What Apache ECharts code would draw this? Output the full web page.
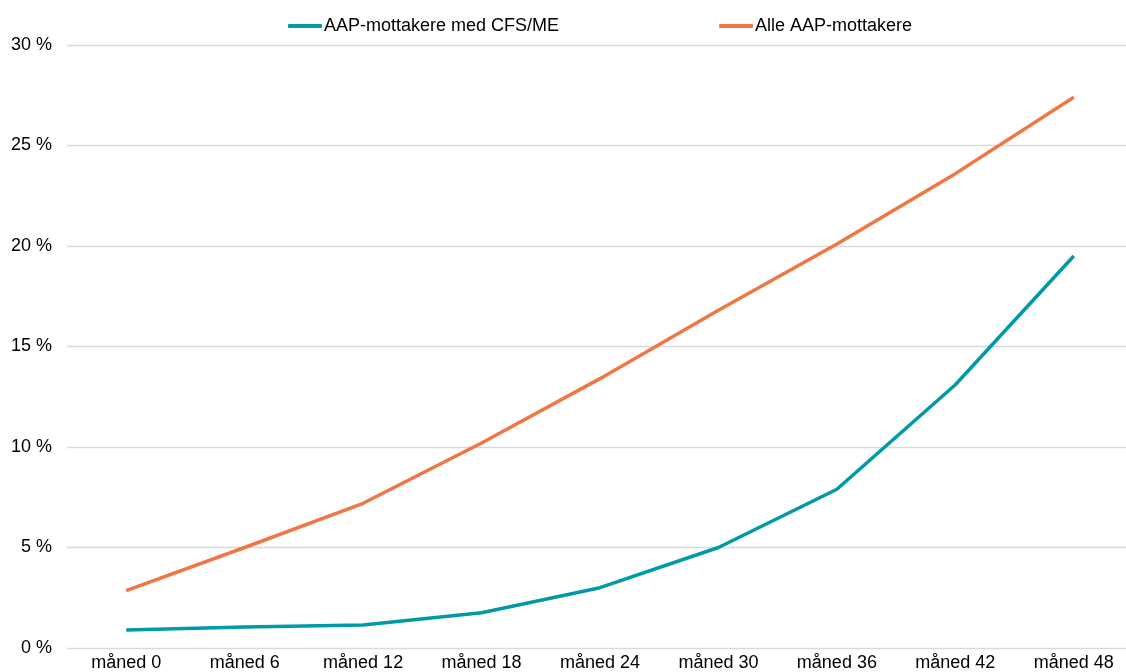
<!DOCTYPE html>
<html>
<head>
<meta charset="utf-8">
<script src="https://cdn.jsdelivr.net/npm/echarts@6/dist/echarts.min.js"></script>
<style>html,body{margin:0;padding:0;background:#fff;}#c{width:1126px;height:672px;}</style>
</head>
<body>
<div id="c"></div>
<script>
const categories = ['måned 0','måned 6','måned 12','måned 18','måned 24','måned 30','måned 36','måned 42','måned 48'];
const cfsName = 'AAP-mottakere med CFS/ME';
const allName = 'Alle AAP-mottakere';
const cfsValues = [0.9, 1.05, 1.15, 1.75, 3.0, 5.0, 7.9, 13.1, 19.5];
const allValues = [2.85, 5.0, 7.2, 10.2, 13.4, 16.8, 20.1, 23.6, 27.4];
const yTicks = [0, 5, 10, 15, 20, 25, 30];

const font = 'Liberation Sans, Arial, Helvetica, sans-serif';
const chart = echarts.init(document.getElementById('c'), null, {renderer:'canvas'});
chart.setOption({
  animation: false,
  backgroundColor: '#fff',
  legend: {
    top: 12, left: 283, itemGap: 160, itemWidth: 34, itemHeight: 4,
    icon: 'roundRect',
    textStyle: { fontFamily: font, fontSize: 18, color: '#000', padding: [0,0,0,-3] },
    data: [cfsName, allName]
  },
  grid: { left: 67, width: 1066, top: 45, bottom: 24, containLabel: false, outerBoundsMode: 'none' },
  xAxis: {
    type: 'category', data: categories, boundaryGap: true,
    axisLine: { show: false }, axisTick: { show: false },
    axisLabel: { fontFamily: font, fontSize: 18, color: '#000', margin: 6, interval: 0 }
  },
  yAxis: {
    type: 'value', min: yTicks[0], max: yTicks[yTicks.length-1], interval: 5,
    axisLine: { show: false }, axisTick: { show: false },
    splitLine: { lineStyle: { color: '#d9d9d9', width: 1.3 } },
    axisLabel: { fontFamily: font, fontSize: 18, color: '#000', margin: 15, formatter: '{value} %' }
  },
  series: [
    { name: cfsName, type: 'line', data: cfsValues, symbol: 'none', color: '#009aa6',
      lineStyle: { width: 3.5, color: '#009aa6' } },
    { name: allName, type: 'line', data: allValues, symbol: 'none', color: '#ef7744',
      lineStyle: { width: 3.5, color: '#ef7744' } }
  ]
});
</script>
</body>
</html>
